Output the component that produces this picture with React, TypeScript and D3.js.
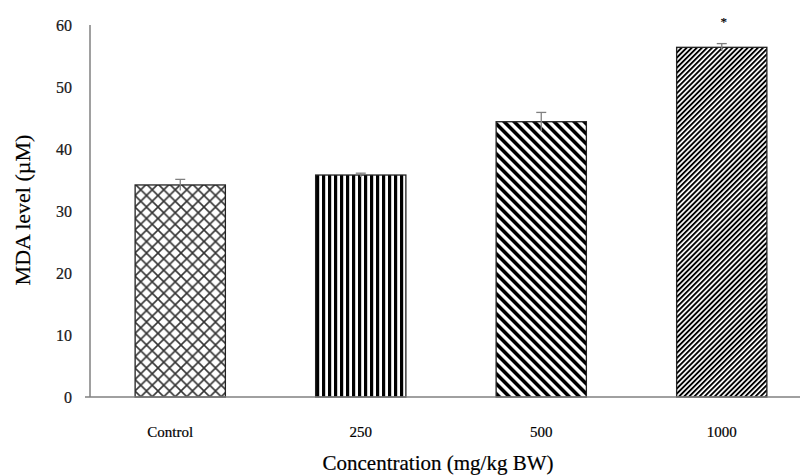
import React from "react";
import * as d3 from "d3";

const categories = ["Control", "250", "500", "1000"];
const values = [34.2, 35.8, 44.4, 56.4];
const errors = [0.9, 0.3, 1.5, 0.6];
const significant = [false, false, false, true];
const patternIds = ["pCross", "pVert", "pBack", "pFwd"];
const yTicks = [0, 10, 20, 30, 40, 50, 60];

const W = 800;
const H = 475;
const m = { left: 90, top: 25, bottom: 397 };

export default function App() {
  const x = d3
    .scaleBand<string>()
    .domain(categories)
    .range([m.left, 812])
    .paddingInner(0.5)
    .paddingOuter(0.25);
  const y = d3.scaleLinear().domain([0, 60]).range([m.bottom, m.top]);
  const font = "'Liberation Serif', 'Times New Roman', serif";
  const axisColor = "#808080";
  const textStroke = { stroke: "#000", strokeWidth: 0.2 };

  return (
    <svg
      width={W}
      height={H}
      style={{ position: "absolute", left: 0, top: 0, background: "#fff" }}
    >
      <defs>
        <pattern id="pCross" patternUnits="userSpaceOnUse" width={11.5} height={11.5} x={135} y={0}>
          <path d="M0,0 L11.5,11.5 M11.5,0 L0,11.5" stroke="#333" strokeWidth={1.6} />
        </pattern>
        <pattern id="pVert" patternUnits="userSpaceOnUse" width={6} height={6} x={316}>
          <rect x={0} y={0} width={3.2} height={6} fill="#000" />
        </pattern>
        <pattern id="pBack" patternUnits="userSpaceOnUse" width={7.07} height={7.07} patternTransform="rotate(-45)">
          <rect x={0} y={0} width={3.6} height={7.07} fill="#000" />
        </pattern>
        <pattern id="pFwd" patternUnits="userSpaceOnUse" width={3.6} height={3.6} patternTransform="rotate(45)">
          <rect x={0} y={0} width={1.9} height={3.6} fill="#000" />
        </pattern>
      </defs>

      {/* bars */}
      {categories.map((c, i) => (
        <rect
          key={c}
          x={x(c)!}
          y={y(values[i])}
          width={x.bandwidth()}
          height={y(0) - y(values[i])}
          fill={`url(#${patternIds[i]})`}
          stroke="#222"
          strokeWidth={1.3}
        />
      ))}

      {/* error bars */}
      {categories.map((c, i) => {
        const cx = x(c)! + x.bandwidth() / 2;
        const yt = y(values[i] + errors[i]);
        const yb = y(values[i] - errors[i]);
        return (
          <g key={c + "e"} stroke={axisColor} strokeWidth={1.3}>
            <line x1={cx} x2={cx} y1={yt} y2={yb} />
            <line x1={cx - 5} x2={cx + 5} y1={yt} y2={yt} />
          </g>
        );
      })}

      {/* significance */}
      {categories.map((c, i) =>
        significant[i] ? (
          <text
            key={c + "s"}
            x={x(c)! + x.bandwidth() / 2 + 2}
            y={y(values[i] + errors[i]) - 18}
            textAnchor="middle"
            fontFamily={font}
            fontSize={13}
            fill="#000"
            {...textStroke}
          >
            *
          </text>
        ) : null
      )}

      {/* axes */}
      <line x1={m.left} x2={m.left} y1={m.top} y2={m.bottom} stroke={axisColor} strokeWidth={1.5} />
      <line x1={m.left - 5} x2={W} y1={m.bottom} y2={m.bottom} stroke={axisColor} strokeWidth={1.5} />

      {yTicks.map((t) => (
        <text
          key={t}
          x={72}
          y={y(t)}
          dy="0.35em"
          textAnchor="end"
          fontFamily={font}
          fontSize={16}
          fill="#222"
          {...textStroke}
        >
          {t}
        </text>
      ))}

      {categories.map((c) => (
        <text
          key={c + "l"}
          x={x(c)! + x.bandwidth() / 2 - (c === "Control" ? 10 : 0)}
          y={437}
          textAnchor="middle"
          fontFamily={font}
          fontSize={15}
          fill="#000"
          {...textStroke}
        >
          {c}
        </text>
      ))}

      <text
        x={438}
        y={470}
        textAnchor="middle"
        fontFamily={font}
        fontSize={21}
        fill="#000"
        {...textStroke}
      >
        Concentration (mg/kg BW)
      </text>
      <text
        transform={`translate(30,${210}) rotate(-90)`}
        textAnchor="middle"
        fontFamily={font}
        fontSize={22}
        fill="#000"
        {...textStroke}
      >
        MDA level (µM)
      </text>
    </svg>
  );
}
